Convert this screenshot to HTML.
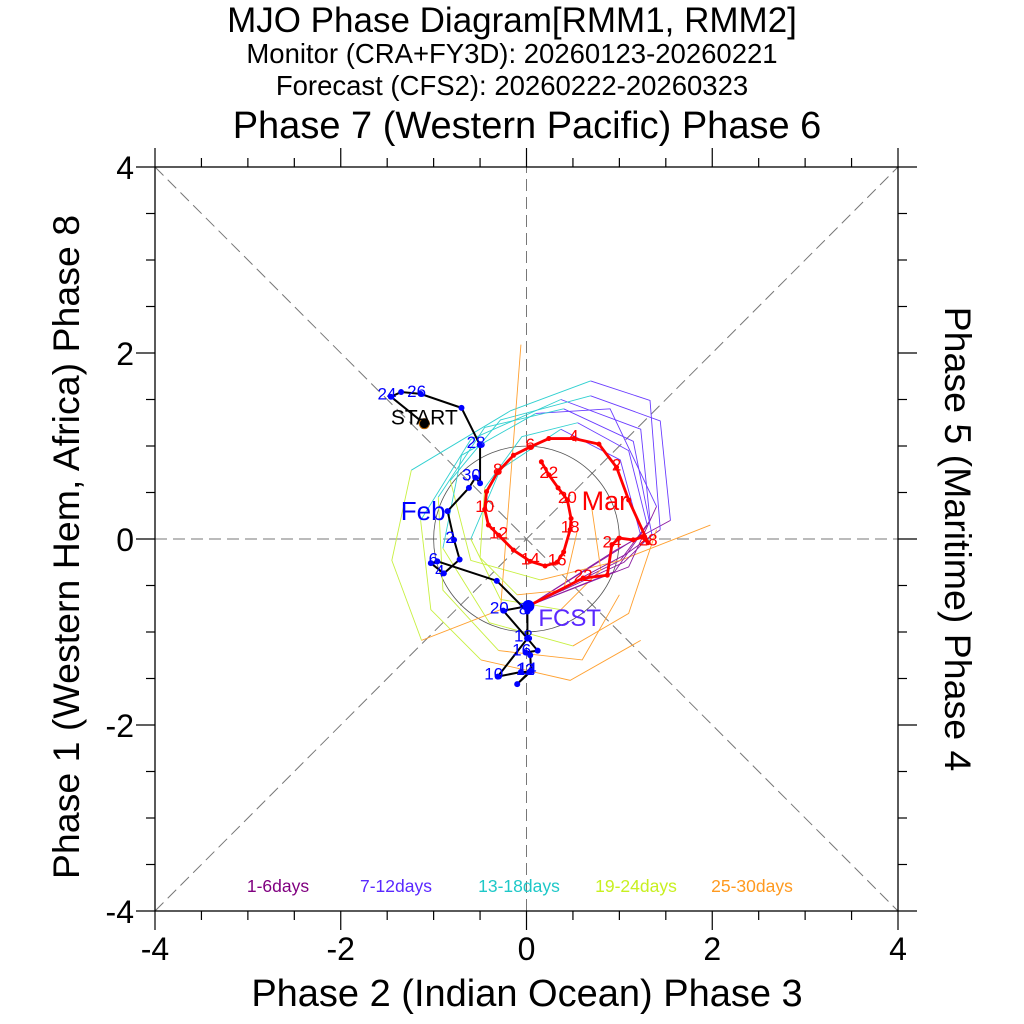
<!DOCTYPE html>
<html><head><meta charset="utf-8"><style>
html,body{margin:0;padding:0;background:#fff}
svg{display:block;font-family:"Liberation Sans",sans-serif}
</style></head><body>
<svg id="chart" width="1024" height="1024" viewBox="0 0 1024 1024" xmlns="http://www.w3.org/2000/svg">
<text x="512" y="32" font-size="35" text-anchor="middle">MJO Phase Diagram[RMM1, RMM2]</text>
<text x="512" y="63" font-size="27.5" text-anchor="middle">Monitor (CRA+FY3D): 20260123-20260221</text>
<text x="512" y="95" font-size="27.5" text-anchor="middle">Forecast (CFS2): 20260222-20260323</text>
<text x="527" y="138" font-size="38" text-anchor="middle">Phase 7 (Western Pacific) Phase 6</text>
<text x="527" y="1006" font-size="38" text-anchor="middle">Phase 2 (Indian Ocean) Phase 3</text>
<text transform="translate(79,547) rotate(-90)" font-size="37.5" text-anchor="middle">Phase 1 (Western Hem, Africa) Phase 8</text>
<text transform="translate(945,539) rotate(90)" font-size="37.5" text-anchor="middle">Phase 5 (Maritime) Phase 4</text>
<g id="grid"></g><g id="axes"></g><g id="ens"></g><g id="obs"></g><g id="fc"></g>
<g font-size="17.5">
<text x="278" y="892" fill="#800080" text-anchor="middle">1-6days</text>
<text x="396" y="892" fill="#5a28ff" text-anchor="middle">7-12days</text>
<text x="519" y="892" fill="#1ec8c8" text-anchor="middle">13-18days</text>
<text x="636" y="892" fill="#c8f020" text-anchor="middle">19-24days</text>
<text x="752" y="892" fill="#ff9a20" text-anchor="middle">25-30days</text>
</g>
</svg>
<script>
// observed RMM1 / RMM2 (Jan 23 - Feb 21)
const obsRMM1=[-1.10,-1.46,-1.35,-1.14,-0.70,-0.50,-0.50,-0.55,-0.62,-0.85,-0.78,-0.72,-0.89,-1.03,-0.96,-0.32,0.01,0.01,-0.31,-0.06,0.03,-0.10,0.05,0.04,-0.01,0.12,0.01,0.01,-0.25,0.02];
const obsRMM2=[1.24,1.53,1.58,1.56,1.41,1.01,0.60,0.66,0.55,0.30,-0.01,-0.22,-0.37,-0.26,-0.24,-0.45,-0.78,-1.07,-1.48,-1.43,-1.43,-1.56,-1.42,-1.25,-1.22,-1.20,-1.07,-1.07,-0.77,-0.72];
const obsLabels=["","24","","26","","28","","30","","Feb","2","","4","","6","","8","","10","","12","","14","","16","","18","","20",""];
// forecast ensemble mean (Feb 22 - Mar 23)
const fcRMM1=[0.61,0.87,0.92,1.00,1.15,1.24,1.31,1.10,0.97,0.78,0.51,0.24,0.04,-0.14,-0.31,-0.43,-0.45,-0.41,-0.30,-0.14,0.04,0.20,0.33,0.40,0.47,0.48,0.44,0.34,0.24,0.16];
const fcRMM2=[-0.42,-0.39,-0.06,0.01,-0.01,0.02,-0.04,0.42,0.77,1.02,1.08,1.08,0.99,0.90,0.72,0.51,0.32,0.15,0.04,-0.12,-0.24,-0.29,-0.25,-0.14,0.10,0.22,0.42,0.55,0.69,0.83];
const fcLabels=["22","","24","","","","28","","2","","4","","6","","8","","10","","12","","14","","16","","18","","20","","22",""];
// ensemble members sampled every 3 days (day 0..30)
const mem1x=[0.02,1.01,1.33,1.23,0.37,-0.60,-1.14,-1.03,-0.49,0.47,1.23];
const mem1y=[-0.72,-0.23,0.20,1.18,1.50,1.07,0.20,-0.76,-1.30,-1.52,-1.09];
const mem2x=[0.02,0.96,1.55,1.44,0.69,-0.28,-0.82,-0.60,0.15,1.01,1.98];
const mem2y=[-0.72,-0.12,0.20,1.27,1.54,1.28,0.63,-0.23,-0.44,-0.23,0.15];
const mem3x=[0.02,0.90,1.23,1.01,0.37,-0.28,-0.60,-0.28,0.37,0.80,0.69];
const mem3y=[-0.72,-0.17,0.04,0.85,1.18,0.75,0.00,-0.65,-0.76,-0.33,0.42];
const mem4x=[0.02,1.06,1.44,1.33,0.69,-0.17,-1.24,-1.45,-1.13,-0.28,-0.06];
const mem4y=[-0.72,-0.17,0.10,1.49,1.70,1.38,0.74,-0.23,-1.09,-0.76,2.09];
const mem5x=[0.02,1.10,1.40,0.90,0.10,-0.70,-0.90,-0.40,0.50,1.10,1.40];
const mem5y=[-0.72,-0.30,0.35,1.40,1.35,0.90,-0.10,-0.90,-1.15,-0.80,0.10];
const mem6x=[0.02,0.95,1.30,1.10,0.55,-0.05,-0.45,-0.50,-0.10,0.40,0.55];
const mem6y=[-0.72,-0.35,0.15,0.95,1.25,1.10,0.55,-0.20,-0.60,-0.55,0.10];
const mem7x=[0.02,1.05,1.35,1.15,0.40,-0.45,-0.95,-0.90,-0.30,0.60,1.00];
const mem7y=[-0.72,-0.25,0.05,1.05,1.40,1.20,0.45,-0.55,-1.20,-1.30,-0.60];
const xTicks=[-4,-2,0,2,4];
const yTicks=[-4,-2,0,2,4];

const NS='http://www.w3.org/2000/svg';
const X0=155,X1=898,Y0=911,Y1=167;
function sx(v){return X0+(v+4)/8*(X1-X0);}
function sy(v){return Y0-(v+4)/8*(Y0-Y1);}
function mk(tag,attrs,parent){const e=document.createElementNS(NS,tag);for(const k in attrs)e.setAttribute(k,attrs[k]);parent.appendChild(e);return e;}
const G=id=>document.getElementById(id);

const grid=G('grid');
[[-4,-4,4,4],[-4,4,4,-4],[-4,0,4,0],[0,-4,0,4]].forEach((d,i)=>{
  const l=mk('line',{x1:sx(d[0]),y1:sy(d[1]),x2:sx(d[2]),y2:sy(d[3]),stroke:'#777','stroke-width':1,'stroke-dasharray':'12,6'},grid);
  
  
});
const circ=mk('circle',{cx:sx(0),cy:sy(0),r:sx(1)-sx(0),fill:'none',stroke:'#555','stroke-width':0.8},grid);



const ax=G('axes');
const frame=mk('rect',{x:X0,y:Y1,width:X1-X0,height:Y0-Y1,fill:'none',stroke:'#000','stroke-width':1.3},ax);


for(let v=-4;v<=4.001;v+=0.5){
  const major=Math.abs(v/2-Math.round(v/2))<1e-6, L=major?19:9;
  const p=sx(v), q=sy(v);
  mk('line',{x1:p,y1:Y0,x2:p,y2:Y0+L,stroke:'#000','stroke-width':1.2},ax);
  mk('line',{x1:p,y1:Y1,x2:p,y2:Y1-L,stroke:'#000','stroke-width':1.2},ax);
  mk('line',{x1:X0,y1:q,x2:X0-L,y2:q,stroke:'#000','stroke-width':1.2},ax);
  mk('line',{x1:X1,y1:q,x2:X1+L,y2:q,stroke:'#000','stroke-width':1.2},ax);
}
xTicks.forEach(v=>{const t=mk('text',{x:sx(v),y:960,'font-size':32,'text-anchor':'middle'},ax);t.textContent=String(v);
  
  });
yTicks.forEach(v=>{const t=mk('text',{x:134,y:sy(v)+12,'font-size':32,'text-anchor':'end'},ax);t.textContent=String(v);
  
  });

const segColors=['#8b1aa0','#6a3cff','#30d0d0','#c8f040','#ffa030'];
const ens=G('ens');
[[mem1x,mem1y],[mem2x,mem2y],[mem3x,mem3y],[mem4x,mem4y],[mem5x,mem5y],[mem6x,mem6y],[mem7x,mem7y]].forEach(m=>{
  for(let s=0;s<5;s++){
    const pts=[];
    for(let i=s*2;i<=s*2+2&&i<m[0].length;i++)pts.push(sx(m[0][i])+','+sy(m[1][i]));
    const pl=mk('polyline',{points:pts.join(' '),fill:'none',stroke:segColors[s],'stroke-width':0.9},ens);
    
    
  }
});

const obs=G('obs');
const op=mk('polyline',{points:obsRMM1.map((v,i)=>sx(v)+','+sy(obsRMM2[i])).join(' '),fill:'none',stroke:'#000','stroke-width':2},obs);


obsRMM1.forEach((v,i)=>{
  const c=mk('circle',{cx:sx(v),cy:sy(obsRMM2[i]),r:3,fill:'#0000ff'},obs);
  
  
  if(obsLabels[i]){const big=obsLabels[i]==='Feb';
    const t=mk('text',{x:sx(v)+(big?-2:-4),y:sy(obsRMM2[i])+(big?9:3),'font-size':big?26:17,fill:'#0000ff','text-anchor':big?'end':'middle'},obs);
    t.textContent=obsLabels[i];
    
    }
});
const sc=mk('circle',{cx:sx(obsRMM1[0]),cy:sy(obsRMM2[0]),r:5,fill:'#000','stroke':'#b06000'},obs);


const st=mk('text',{x:sx(obsRMM1[0]),y:sy(obsRMM2[0])+1,'font-size':21,'text-anchor':'middle'},obs);st.textContent='START';



const fc=G('fc');
const fx=[obsRMM1[obsRMM1.length-1]].concat(fcRMM1), fy=[obsRMM2[obsRMM2.length-1]].concat(fcRMM2);
const fp=mk('polyline',{points:fx.map((v,i)=>sx(v)+','+sy(fy[i])).join(' '),fill:'none',stroke:'#ff0000','stroke-width':2.8},fc);


fcRMM1.forEach((v,i)=>{
  const c=mk('circle',{cx:sx(v),cy:sy(fcRMM2[i]),r:2.5,fill:'#ff0000'},fc);
  
  
  if(fcLabels[i]){const t=mk('text',{x:sx(v),y:sy(fcRMM2[i])+3,'font-size':17,fill:'#ff0000','text-anchor':'middle'},fc);
    t.textContent=fcLabels[i];
    
    }
});
const mar=mk('text',{x:sx(fcRMM1[7])-47,y:sy(fcRMM2[7])+10,'font-size':27,fill:'#ff0000'},fc);mar.textContent='Mar';


const fd=mk('circle',{cx:sx(fx[0]),cy:sy(fy[0]),r:6,fill:'#0000ff'},fc);


const ft=mk('text',{x:sx(fx[0])+10,y:sy(fy[0])+20,'font-size':24,fill:'#5a28ff'},fc);ft.textContent='FCST';


</script>
</body></html>
